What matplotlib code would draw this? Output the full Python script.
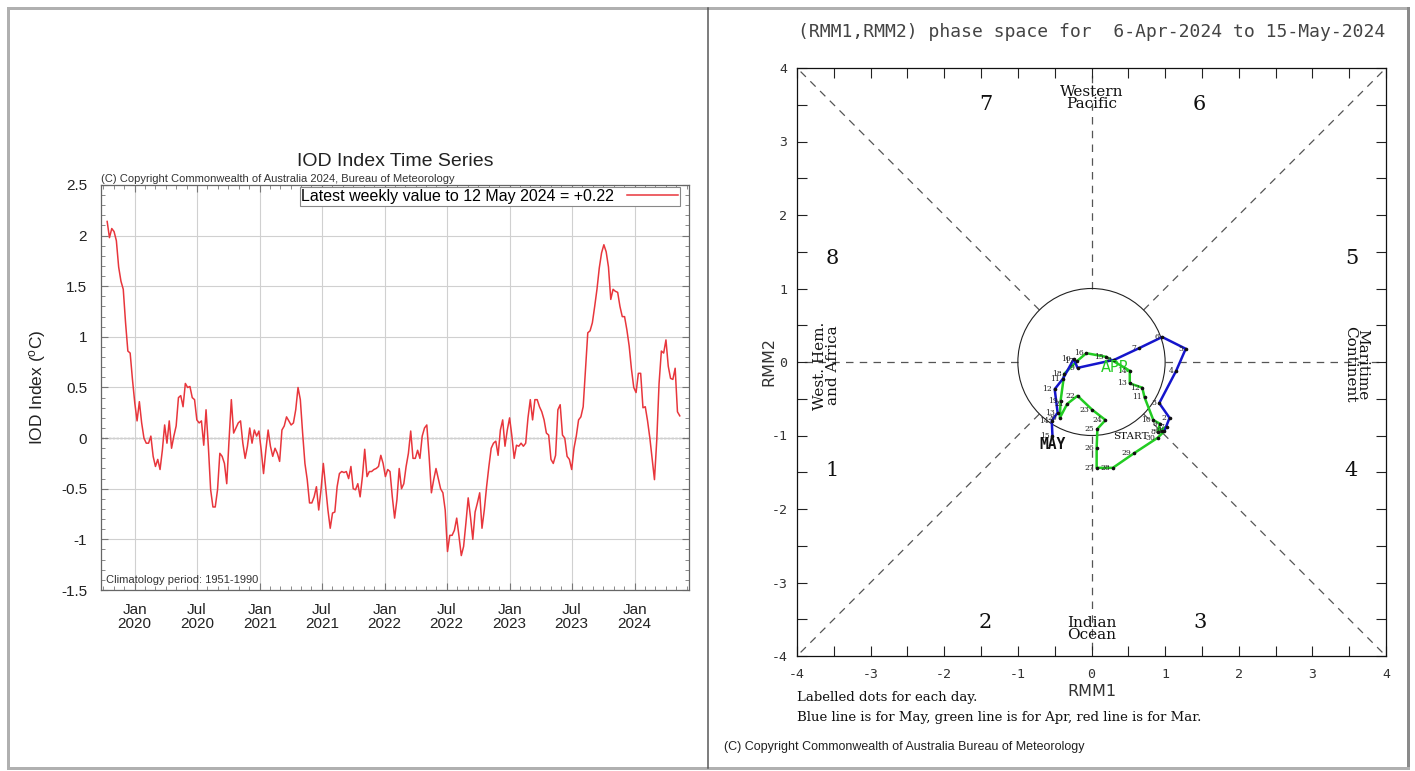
import numpy as np
import pandas as pd
import matplotlib
matplotlib.use('Agg')
import matplotlib.pyplot as plt
import matplotlib.dates as mdates
import matplotlib.ticker as ticker
from matplotlib.patches import Circle
from matplotlib.lines import Line2D

plt.rcParams['axes.unicode_minus'] = False

W, H = 1415, 771

# ---- IOD weekly index ----
iod_start = '2019-10-13'
iod_end = '2024-05-12'
iod_values = [
    2.14, 1.98, 2.07, 2.04, 1.95, 1.69, 1.55,
    1.47, 1.14, 0.86, 0.84, 0.58, 0.35, 0.17, 0.36, 0.15, 0.00,
    -0.05, -0.05, 0.02, -0.18, -0.28, -0.21, -0.31, -0.12, 0.13, -0.05,
    0.17, -0.10, 0.02, 0.12, 0.40, 0.42, 0.31, 0.54, 0.50, 0.51,
    0.40, 0.38, 0.18, 0.15, 0.17, -0.07, 0.28, -0.08, -0.51, -0.68,
    -0.68, -0.51, -0.15, -0.18, -0.25, -0.45, -0.02, 0.38, 0.05, 0.10,
    0.15, 0.17, -0.05, -0.20, -0.08, 0.10, -0.05, 0.08, 0.02, 0.07,
    -0.12, -0.35, -0.12, 0.08, -0.08, -0.18, -0.10, -0.15, -0.23, 0.08,
    0.12, 0.21, 0.17, 0.13, 0.15, 0.28, 0.50, 0.38, 0.05, -0.25,
    -0.41, -0.64, -0.64, -0.58, -0.48, -0.71, -0.51, -0.25, -0.48, -0.71,
    -0.89, -0.74, -0.73, -0.48, -0.35, -0.33, -0.34, -0.33, -0.40, -0.28,
    -0.50, -0.51, -0.45, -0.58, -0.38, -0.11, -0.38, -0.33, -0.33, -0.31,
    -0.30, -0.28, -0.17, -0.25, -0.38, -0.31, -0.33, -0.58, -0.79, -0.61,
    -0.30, -0.50, -0.45, -0.28, -0.15, 0.07, -0.20, -0.20, -0.12, -0.20,
    0.02, 0.10, 0.13, -0.18, -0.54, -0.41, -0.30, -0.40, -0.50, -0.54,
    -0.71, -1.12, -0.96, -0.96, -0.91, -0.79, -0.97, -1.16, -1.07, -0.84,
    -0.59, -0.78, -1.00, -0.73, -0.64, -0.54, -0.89, -0.71, -0.48, -0.28,
    -0.10, -0.05, -0.03, -0.17, 0.08, 0.18, -0.08, 0.08, 0.20, 0.02,
    -0.20, -0.07, -0.08, -0.05, -0.08, -0.05, 0.20, 0.38, 0.18, 0.38,
    0.38, 0.31, 0.26, 0.18, 0.05, 0.03, -0.21, -0.25, -0.17, 0.28,
    0.33, 0.03, 0.00, -0.18, -0.21, -0.31, -0.10, 0.02, 0.18, 0.21,
    0.31, 0.68, 1.04, 1.06, 1.14, 1.30, 1.47,
    1.68, 1.83, 1.91, 1.84, 1.69,
    1.37, 1.47, 1.45, 1.44, 1.30, 1.20, 1.20, 1.07, 0.91, 0.68,
    0.50, 0.45, 0.64, 0.64, 0.30, 0.31, 0.17, 0.00, -0.21, -0.41,
    -0.02, 0.54, 0.86, 0.84, 0.97, 0.71, 0.59, 0.58, 0.69, 0.26,
    0.22,
]
latest_label = 'Latest weekly value to 12 May 2024 = +0.22'

# ---- RMM phase space ----
apr_days = list(range(6, 31))
apr_rmm1 = [0.96, 1.02, 0.90, 0.93, 0.84, 0.72, 0.69, 0.52, 0.52, 0.20,
            -0.07, -0.20, -0.37, -0.42, -0.43, -0.33, -0.19, 0.01, 0.19, 0.08,
            0.07, 0.07, 0.29, 0.58, 0.90]
apr_rmm2 = [-0.94, -0.88, -0.95, -0.84, -0.79, -0.48, -0.35, -0.29, -0.12, 0.07,
            0.12, 0.01, -0.16, -0.53, -0.76, -0.57, -0.46, -0.65, -0.79, -0.91,
            -1.17, -1.44, -1.44, -1.24, -1.03]
may_days = list(range(1, 16))
may_rmm1 = [0.99, 1.06, 0.92, 1.15, 1.28, 0.96, 0.65, 0.31, -0.19, -0.24,
            -0.39, -0.50, -0.46, -0.54, -0.53]
may_rmm2 = [-0.94, -0.76, -0.56, -0.12, 0.18, 0.34, 0.19, 0.03, -0.08, 0.04,
            -0.23, -0.37, -0.69, -0.80, -1.01]


def px(x0, y0, x1, y1):
    return [x0 / W, 1 - y1 / H, (x1 - x0) / W, (y1 - y0) / H]


fig = plt.figure(figsize=(W / 100, H / 100), dpi=100)

# ================= left: IOD time series =================
ax = fig.add_axes(px(101, 185, 689, 590))
dates = pd.date_range(iod_start, iod_end, periods=len(iod_values))
ax.plot(dates, iod_values, color='#e8363c', lw=1.1, label=latest_label)
ax.axhline(0, color='#555555', lw=0.9, ls=(0, (2, 1)), zorder=1)
ax.set_xlim(pd.Timestamp('2019-09-25'), pd.Timestamp('2024-06-08'))
ax.set_ylim(-1.5, 2.5)
ax.yaxis.set_major_locator(ticker.MultipleLocator(0.5))
ax.yaxis.set_minor_locator(ticker.MultipleLocator(0.1))
ax.yaxis.set_major_formatter(ticker.FuncFormatter(lambda v, p: f'{v:g}'))
ax.xaxis.set_major_locator(mdates.MonthLocator(bymonth=[1, 7]))
ax.xaxis.set_minor_locator(mdates.MonthLocator())
ax.xaxis.set_major_formatter(mdates.DateFormatter('%b\n%Y'))
ax.grid(True, which='major', color='#d0d0d0', lw=0.8, zorder=0)
ax.tick_params(which='both', direction='in', top=True, right=True, color='#777777')
ax.tick_params(which='major', length=5)
ax.tick_params(which='minor', length=3)
ax.tick_params(axis='y', which='major', pad=10)
ax.tick_params(axis='x', which='major', pad=9)
for lab in ax.get_xticklabels() + ax.get_yticklabels():
    lab.set_fontfamily('Liberation Sans')
    lab.set_fontsize(11)
    lab.set_color('#222222')
    lab.set_linespacing(1.05)
for s in ax.spines.values():
    s.set_color('#666666')
    s.set_linewidth(0.9)
ax.set_ylabel(r'IOD Index ($\mathregular{^o}$C)', fontsize=12.5,
              family='Liberation Sans', color='#222222', labelpad=9)
ax.set_title('IOD Index Time Series', fontsize=14, family='Liberation Sans',
             color='#222222', pad=14)
ax.text(0.0, 1.003, '(C) Copyright Commonwealth of Australia 2024, Bureau of Meteorology',
        transform=ax.transAxes, fontsize=8, family='Liberation Sans',
        color='#333333', va='bottom', ha='left')
ax.text(0.009, 0.012, 'Climatology period: 1951-1990', transform=ax.transAxes,
        fontsize=8, family='Liberation Sans', color='#333333', va='bottom', ha='left')
leg = ax.legend(loc='upper right', bbox_to_anchor=(0.985, 0.995), borderaxespad=0,
                fancybox=False, framealpha=1, edgecolor='#888888', handlelength=3.2,
                prop={'family': 'Liberation Sans', 'size': 11.5}, markerfirst=False,
                borderpad=0.12, handletextpad=0.8)
leg.get_frame().set_linewidth(0.8)

# ================= right: RMM phase space =================
bx = fig.add_axes(px(797, 68, 1386, 656))
bx.set_xlim(-4, 4)
bx.set_ylim(-4, 4)
bx.xaxis.set_major_locator(ticker.MultipleLocator(1))
bx.yaxis.set_major_locator(ticker.MultipleLocator(1))
bx.xaxis.set_minor_locator(ticker.MultipleLocator(0.5))
bx.yaxis.set_minor_locator(ticker.MultipleLocator(0.5))
bx.tick_params(which='both', direction='in', top=True, right=True, length=7,
               width=0.8, color='#222222', labelsize=9.5, labelcolor='#333333')
bx.tick_params(axis='x', pad=9)
bx.tick_params(axis='y', pad=7)
for lab in bx.get_xticklabels() + bx.get_yticklabels():
    lab.set_fontfamily('DejaVu Sans Mono')
for s in bx.spines.values():
    s.set_linewidth(0.9)
    s.set_color('#111111')

dash = dict(color='#555555', lw=0.9, ls=(0, (6, 5)), zorder=1)
r = np.sqrt(0.5)
for sx, sy in [(1, 1), (1, -1), (-1, 1), (-1, -1)]:
    bx.plot([sx * r, sx * 4], [sy * r, sy * 4], **dash)
for sx, sy in [(1, 0), (-1, 0), (0, 1), (0, -1)]:
    bx.plot([sx * 1, sx * 4], [sy * 1, sy * 4], **dash)
bx.add_patch(Circle((0, 0), 1, fill=False, lw=0.8, color='#222222', zorder=2))

serif = 'DejaVu Serif'
for num, (x, y) in {'1': (-3.52, -1.48), '2': (-1.44, -3.54), '3': (1.47, -3.54),
                    '4': (3.53, -1.48), '5': (3.53, 1.41), '6': (1.47, 3.51),
                    '7': (-1.44, 3.51), '8': (-3.52, 1.41)}.items():
    bx.text(x, y, num, fontsize=15, family=serif, ha='center', va='center', color='#111111')
bx.text(0, 3.59, 'Western\nPacific', fontsize=11, family=serif, ha='center',
        va='center', linespacing=0.85, color='#111111')
bx.text(0, -3.63, 'Indian\nOcean', fontsize=11, family=serif, ha='center',
        va='center', linespacing=0.85, color='#111111')
bx.text(-3.6, -0.05, 'West. Hem.\nand Africa', fontsize=11, family=serif,
        ha='center', va='center', rotation=90, linespacing=0.85, color='#111111')
bx.text(3.6, -0.03, 'Maritime\nContinent', fontsize=11, family=serif,
        ha='center', va='center', rotation=-90, linespacing=0.85, color='#111111')

# trajectory: April (green) continues into May (blue)
bx.plot(apr_rmm1 + may_rmm1[:1], apr_rmm2 + may_rmm2[:1], color='#22cc22', lw=1.8, zorder=3)
bx.plot(may_rmm1, may_rmm2, color='#1515cc', lw=1.8, zorder=3)
bx.plot(apr_rmm1 + may_rmm1, apr_rmm2 + may_rmm2, 'o', color='#111111', ms=1.6, zorder=4)
for d, x, y in zip(apr_days + may_days, apr_rmm1 + may_rmm1, apr_rmm2 + may_rmm2):
    bx.annotate(str(d), (x, y), xytext=(-2, 0), textcoords='offset points',
                ha='right', va='center', fontsize=5.5, family=serif, color='#222222', zorder=5)
bx.annotate('START', (apr_rmm1[0], apr_rmm2[0]), xytext=(-10, -4), textcoords='offset points',
            ha='right', va='center', fontsize=7.5, family=serif, color='#111111', zorder=5)
bx.annotate('APR', (apr_rmm1[9], apr_rmm2[9]), xytext=(-4, -8), textcoords='offset points',
            ha='left', va='center', fontsize=10.5, family='DejaVu Sans', color='#22cc22', zorder=5)
bx.annotate('MAY', (may_rmm1[-1], may_rmm2[-1]), xytext=(0, -6), textcoords='offset points',
            ha='center', va='center', fontsize=10.5, family='DejaVu Sans Mono',
            weight='bold', color='#111111', zorder=5)

bx.set_xlabel('RMM1', fontsize=11.5, family='DejaVu Sans', color='#333333', labelpad=2)
bx.set_ylabel('RMM2', fontsize=11.5, family='DejaVu Sans', color='#333333', labelpad=-4)

fig.text(1092 / W, 1 - 32 / H, '(RMM1,RMM2) phase space for  6-Apr-2024 to 15-May-2024',
         fontsize=13, family='DejaVu Sans Mono', color='#444444', ha='center', va='center')
fig.text(797 / W, 1 - 697 / H, 'Labelled dots for each day.', fontsize=9.5,
         family=serif, color='#111111', ha='left', va='center')
fig.text(797 / W, 1 - 717 / H,
         'Blue line is for May, green line is for Apr, red line is for Mar.',
         fontsize=9.5, family=serif, color='#111111', ha='left', va='center')
fig.text(724 / W, 1 - 747 / H, '(C) Copyright Commonwealth of Australia Bureau of Meteorology',
         fontsize=9, family='Liberation Sans', color='#222222', ha='left', va='center')

# frame around both panels
frame = [((8, 8), (8, 768), '#b0b0b0', 3), ((8, 1408), (8, 8), '#b0b0b0', 3),
         ((1408, 1408), (8, 768), '#8a8a8a', 3), ((8, 1408), (768, 768), '#b0b0b0', 3),
         ((708, 708), (8, 768), '#555555', 1.5)]
for xs, ys, c, lw in frame:
    fig.add_artist(Line2D([x / W for x in xs], [1 - y / H for y in ys], color=c, lw=lw * 0.72))

fig.savefig('out.png', dpi=100)
